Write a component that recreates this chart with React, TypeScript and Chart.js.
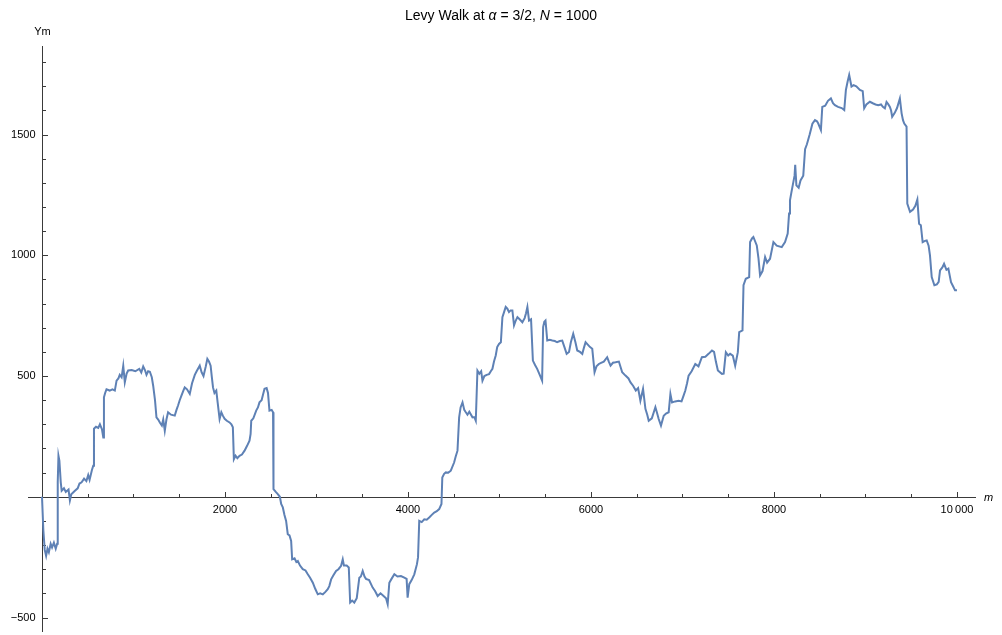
import React, { useEffect, useRef } from "react";
import { Chart, registerables } from "chart.js";

Chart.register(...registerables);

// Step index m along the walk
const stepM = [
  0, 15, 30, 45, 60, 75, 95, 110, 130, 150, 165, 172, 180, 190, 205, 215, 240, 260, 290, 305,
  320, 360, 390, 410, 433, 460, 485, 505, 520, 545, 560, 568, 590, 615, 633, 655, 670, 677, 690, 705,
  740, 770, 796, 815, 835, 850, 870, 888, 905, 925, 942, 980, 1020, 1063, 1085, 1106, 1125, 1142, 1160, 1179,
  1200, 1215, 1235, 1251, 1270, 1288, 1310, 1325, 1342, 1360, 1378, 1410, 1451, 1470, 1487, 1505, 1524, 1545, 1560, 1585,
  1615, 1640, 1670, 1690, 1724, 1745, 1765, 1790, 1807, 1825, 1843, 1855, 1869, 1885, 1905, 1920, 1941, 1960, 1978, 1996,
  2020, 2050, 2070, 2086, 2097, 2115, 2135, 2159, 2185, 2214, 2240, 2268, 2280, 2287, 2310, 2341, 2360, 2377, 2400, 2432,
  2455, 2470, 2486, 2510, 2525, 2530, 2555, 2577, 2600, 2614, 2632, 2650, 2668, 2686, 2705, 2723, 2734, 2760, 2780, 2796,
  2820, 2850, 2880, 2905, 2930, 2960, 2985, 3014, 3040, 3069, 3095, 3123, 3140, 3160, 3185, 3214, 3240, 3269, 3287, 3300,
  3330, 3353, 3368, 3390, 3413, 3440, 3468, 3485, 3505, 3525, 3541, 3575, 3614, 3640, 3669, 3700, 3730, 3760, 3778, 3796,
  3820, 3851, 3885, 3923, 3960, 3985, 3996, 4014, 4040, 4069, 4098, 4110, 4123, 4150, 4178, 4205, 4232, 4260, 4287, 4315,
  4341, 4366, 4375, 4395, 4414, 4440, 4468, 4504, 4520, 4541, 4559, 4575, 4596, 4615, 4632, 4650, 4670, 4705, 4725, 4741,
  4759, 4780, 4800, 4814, 4835, 4860, 4886, 4905, 4923, 4940, 4959, 4975, 4995, 5015, 5032, 5050, 5068, 5086, 5104, 5122,
  5141, 5159, 5178, 5196, 5220, 5250, 5275, 5290, 5305, 5323, 5345, 5365, 5390, 5412, 5440, 5466, 5477, 5490, 5503, 5522,
  5550, 5577, 5605, 5630, 5660, 5686, 5710, 5734, 5760, 5780, 5806, 5830, 5850, 5880, 5905, 5925, 5941, 5965, 5990, 6014,
  6039, 6060, 6086, 6110, 6140, 6177, 6195, 6214, 6240, 6268, 6305, 6341, 6377, 6410, 6432, 6460, 6490, 6515, 6540, 6569,
  6595, 6615, 6631, 6665, 6704, 6720, 6740, 6765, 6795, 6820, 6849, 6868, 6886, 6920, 6958, 6990, 7013, 7031, 7050, 7067,
  7100, 7140, 7175, 7212, 7250, 7285, 7322, 7345, 7365, 7387, 7431, 7450, 7474, 7500, 7521, 7550, 7576, 7605, 7620, 7656,
  7667, 7692, 7729, 7739, 7760, 7775, 7812, 7830, 7848, 7875, 7903, 7925, 7957, 7994, 8030, 8085, 8121, 8150, 8165, 8175,
  8190, 8210, 8225, 8232, 8245, 8270, 8290, 8320, 8340, 8360, 8390, 8420, 8448, 8470, 8484, 8513, 8528, 8560, 8590, 8622,
  8645, 8666, 8700, 8740, 8768, 8786, 8805, 8822, 8847, 8870, 8900, 8939, 8970, 8986, 9010, 9048, 9080, 9110, 9139, 9170,
  9190, 9212, 9230, 9250, 9267, 9280, 9292, 9320, 9345, 9376, 9395, 9410, 9424, 9449, 9457, 9487, 9520, 9545, 9567, 9586,
  9605, 9625, 9650, 9669, 9690, 9705, 9724, 9753, 9780, 9800, 9815, 9840, 9859, 9885, 9906, 9935, 9960, 9979, 10000,
];

// Position Ym of the walk at each step
const walkY = [
  0, -140, -220, -245, -215, -230, -195, -210, -190, -215, -195, 60, 170, 150, 60, 25, 35, 20, 30, -15,
  10, 25, 35, 55, 60, 75, 65, 90, 70, 110, 129, 282, 290, 285, 300, 280, 246, 412, 430, 445,
  440, 445, 440, 481, 490, 505, 495, 543, 474, 510, 523, 525, 520, 530, 515, 540, 525, 505, 520, 518,
  495, 460, 400, 329, 320, 308, 295, 320, 274, 320, 350, 340, 336, 360, 378, 400, 419, 440, 453, 445,
  426, 470, 505, 520, 543, 515, 500, 540, 571, 560, 543, 500, 453, 430, 440, 390, 322, 350, 335, 323,
  315, 308, 300, 288, 156, 170, 160, 170, 175, 191, 210, 232, 260, 315, 325, 357, 370, 391, 400, 447,
  450, 430, 357, 360, 350, 32, 20, 11, 0, -30, -44, -75, -100, -155, -160, -183, -259, -255, -270, -266,
  -285, -300, -305, -321, -335, -356, -380, -404, -400, -404, -395, -383, -370, -342, -325, -307, -300, -286, -259, -285,
  -285, -293, -438, -430, -438, -420, -335, -330, -307, -330, -340, -345, -376, -390, -411, -400, -410, -420, -445, -356,
  -340, -321, -330, -328, -335, -340, -418, -362, -345, -321, -279, -250, -100, -105, -93, -95, -86, -75, -65, -60,
  -51, -30, 80, 95, 101, 100, 108, 142, 165, 191, 329, 370, 391, 360, 350, 340, 352, 329, 330, 315,
  523, 510, 520, 481, 500, 505, 508, 520, 530, 560, 585, 620, 633, 640, 744, 765, 786, 779, 765, 772,
  772, 710, 730, 744, 735, 723, 740, 760, 786, 730, 735, 564, 545, 530, 505, 481, 703, 725, 730, 647,
  650, 647, 645, 640, 645, 647, 620, 592, 600, 640, 675, 640, 606, 600, 592, 620, 640, 630, 620, 613,
  516, 540, 550, 555, 560, 578, 560, 543, 555, 557, 560, 516, 502, 490, 474, 460, 440, 450, 398, 447,
  364, 340, 315, 325, 371, 350, 322, 295, 336, 345, 350, 426, 391, 395, 398, 395, 420, 440, 470, 502,
  520, 550, 540, 578, 580, 592, 606, 600, 560, 523, 509, 510, 599, 585, 592, 585, 543, 599, 682, 689,
  876, 903, 910, 1055, 1070, 1076, 1041, 990, 917, 935, 993, 970, 986, 1055, 1040, 1034, 1055, 1090, 1173, 1228,
  1260, 1300, 1330, 1375, 1290, 1280, 1310, 1330, 1440, 1460, 1500, 1545, 1560, 1555, 1546, 1519, 1615, 1620, 1640, 1650,
  1630, 1622, 1615, 1610, 1602, 1685, 1720, 1747, 1699, 1705, 1700, 1685, 1680, 1609, 1625, 1636, 1630, 1625, 1622, 1625,
  1615, 1609, 1635, 1625, 1615, 1600, 1574, 1590, 1610, 1650, 1588, 1560, 1546, 1533, 1214, 1180, 1190, 1205, 1231, 1131,
  1125, 1055, 1060, 1062, 1040, 1000, 910, 876, 880, 890, 938, 950, 965, 940, 945, 889, 870, 855, 855,
];

// Axis ticks and labels
const xMajorTicks = [2000, 4000, 6000, 8000, 10000];
const xTickLabels = ["2000", "4000", "6000", "8000", "10\u2009000"];
const xMinorStep = 500;
const yMajorTicks = [-500, 500, 1000, 1500];
const yTickLabels = ["\u2212500", "500", "1000", "1500"];
const yMinorStep = 100;

const xAxisLabel = "m";
const yAxisLabel = "Ym";
const titleParts: { text: string; italic: boolean }[] = [
  { text: "Levy Walk at ", italic: false },
  { text: "\u03b1", italic: true },
  { text: " = 3/2, ", italic: false },
  { text: "N", italic: true },
  { text: " = 1000", italic: false },
];

const FONT = "'Liberation Sans', Arial, sans-serif";
const AXIS_COLOR = "#3a3a3a";
const LINE_COLOR = "#5e81b5";

const axesPlugin = {
  id: "originAxes",
  beforeDatasetsDraw(chart: any) {
    const { ctx, scales } = chart;
    const xs = scales.x;
    const ys = scales.y;
    const x0 = Math.round(xs.getPixelForValue(0)) + 0.5;
    const y0 = Math.round(ys.getPixelForValue(0)) + 0.5;
    ctx.save();
    ctx.strokeStyle = AXIS_COLOR;
    ctx.lineWidth = 1;
    ctx.beginPath();
    ctx.moveTo(xs.left, y0);
    ctx.lineTo(xs.right, y0);
    ctx.moveTo(x0, ys.top);
    ctx.lineTo(x0, ys.bottom);
    // x ticks (pointing up)
    for (let v = xMinorStep; v <= xs.max; v += xMinorStep) {
      const px = Math.round(xs.getPixelForValue(v)) + 0.5;
      const major = xMajorTicks.includes(v);
      ctx.moveTo(px, y0);
      ctx.lineTo(px, y0 - (major ? 5.5 : 3.5));
    }
    // y ticks (pointing right)
    const yStart = Math.ceil(ys.min / yMinorStep) * yMinorStep;
    for (let v = yStart; v <= ys.max; v += yMinorStep) {
      if (v === 0) continue;
      const py = Math.round(ys.getPixelForValue(v)) + 0.5;
      const major = yMajorTicks.includes(v);
      ctx.moveTo(x0, py);
      ctx.lineTo(x0 + (major ? 5.5 : 3.5), py);
    }
    ctx.stroke();

    ctx.fillStyle = "#000";
    ctx.font = `11px ${FONT}`;
    ctx.textAlign = "center";
    ctx.textBaseline = "top";
    xMajorTicks.forEach((v, i) => {
      ctx.fillText(xTickLabels[i], xs.getPixelForValue(v), y0 + 7);
    });
    ctx.textAlign = "right";
    ctx.textBaseline = "middle";
    yMajorTicks.forEach((v, i) => {
      ctx.fillText(yTickLabels[i], x0 - 7, ys.getPixelForValue(v));
    });
    // axis labels
    ctx.font = `italic 11px ${FONT}`;
    ctx.textAlign = "left";
    ctx.textBaseline = "middle";
    ctx.fillText(xAxisLabel, xs.right + 8, y0);
    ctx.font = `11px ${FONT}`;
    ctx.textAlign = "center";
    ctx.textBaseline = "bottom";
    ctx.fillText(yAxisLabel, x0, ys.top - 9);
    ctx.restore();
  },
  afterDraw(chart: any) {
    const { ctx, width } = chart;
    ctx.save();
    ctx.fillStyle = "#000";
    ctx.textBaseline = "middle";
    ctx.textAlign = "left";
    const fontFor = (italic: boolean) => `${italic ? "italic " : ""}14px ${FONT}`;
    let total = 0;
    titleParts.forEach((p) => {
      ctx.font = fontFor(p.italic);
      total += ctx.measureText(p.text).width;
    });
    let x = width / 2 - total / 2;
    titleParts.forEach((p) => {
      ctx.font = fontFor(p.italic);
      ctx.fillText(p.text, x, 16);
      x += ctx.measureText(p.text).width;
    });
    ctx.restore();
  },
};

export default function App() {
  const canvasRef = useRef<HTMLCanvasElement | null>(null);

  useEffect(() => {
    if (!canvasRef.current) return;
    const points = stepM.map((m, i) => ({ x: m, y: walkY[i] }));
    const chart = new Chart(canvasRef.current, {
      type: "line",
      data: {
        datasets: [
          {
            data: points,
            borderColor: LINE_COLOR,
            borderWidth: 2,
            pointRadius: 0,
            tension: 0,
            fill: false,
          },
        ],
      },
      options: {
        animation: false,
        responsive: false,
        devicePixelRatio: 1,
        layout: { padding: { left: 28, right: 26, top: 46, bottom: 3 } },
        plugins: { legend: { display: false }, tooltip: { enabled: false }, title: { display: false } },
        scales: {
          x: { type: "linear", min: -153, max: 10208, display: false },
          y: { type: "linear", min: -560, max: 1867, display: false },
        },
      },
      plugins: [axesPlugin],
    });
    return () => chart.destroy();
  }, []);

  return (
    <div style={{ position: "fixed", left: 0, top: 0, width: 1002, height: 635, background: "#fff" }}>
      <canvas ref={canvasRef} width={1002} height={635} style={{ display: "block" }} />
    </div>
  );
}
